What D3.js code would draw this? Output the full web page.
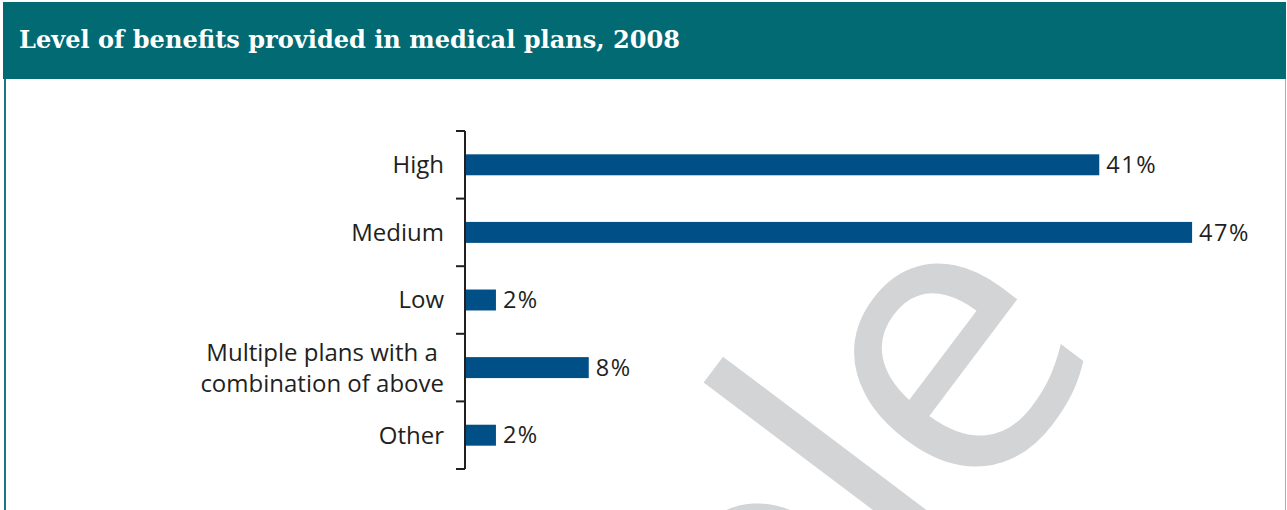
<!DOCTYPE html>
<html>
<head>
<meta charset="utf-8">
<script src="https://cdn.jsdelivr.net/npm/d3@7"></script>
<style>
  html, body { margin: 0; padding: 0; background: #ffffff; }
  svg { display: block; }
</style>
</head>
<body>
<svg id="chart" width="1287" height="510"></svg>
<script>
// Survey results: share of plans by level of benefits
const titleText = "Level of benefits provided in medical plans, 2008";
const categories = ["High", "Medium", "Low", "Multiple plans with a \ncombination of above", "Other"];
const shares = [41, 47, 2, 8, 2];
const valueLabels = ["41%", "47%", "2%", "8%", "2%"];

const W = 1287, H = 510;
const teal = "#016a73";
const barColor = "#004f86";
const ink = "#231f20";

const svg = d3.select("#chart");

// Frame: teal header band and thin side rules
svg.append("rect")
  .attr("x", 3).attr("y", 2).attr("width", W - 4).attr("height", 77)
  .attr("fill", teal);
svg.append("line")
  .attr("x1", 5).attr("x2", 5).attr("y1", 79).attr("y2", H)
  .attr("stroke", "#1c7680").attr("stroke-width", 2);
svg.append("line")
  .attr("x1", 1285.5).attr("x2", 1285.5).attr("y1", 79).attr("y2", H)
  .attr("stroke", "#8cbcc1").attr("stroke-width", 1);

const title = svg.append("text")
  .attr("x", 19).attr("y", 48)
  .attr("fill", "#ffffff")
  .style("font-family", "'DejaVu Serif', serif")
  .style("font-weight", "bold")
  .style("font-size", "24px")
  .text(titleText);
title.attr("textLength", 661).attr("lengthAdjust", "spacingAndGlyphs");

// Background watermark (only its tail end falls inside the frame)
const wm = svg.append("text")
  .attr("transform", "translate(923,590) rotate(-53)")
  .attr("fill", "#d3d4d6")
  .style("font-family", "'Open Sans', sans-serif")
  .style("font-size", "395px")
  .style("letter-spacing", "-12px")
  .text("Sample");
wm.attr("x", -wm.node().getSubStringLength(0, 4));

// Scales
const x = d3.scaleLinear().domain([0, 47]).range([465, 465 + 47 * 15.47]);
const y = d3.scaleBand()
  .domain(categories)
  .range([131, 469])
  .paddingInner(0.69)
  .paddingOuter(0.345);

// Bars
svg.append("g").selectAll("rect")
  .data(shares)
  .join("rect")
  .attr("x", x(0))
  .attr("y", (d, i) => y(categories[i]))
  .attr("width", d => x(d) - x(0))
  .attr("height", y.bandwidth())
  .attr("fill", barColor);

// Value labels
svg.append("g").selectAll("text")
  .data(shares)
  .join("text")
  .attr("x", d => x(d) + 7)
  .attr("y", (d, i) => y(categories[i]) + y.bandwidth() / 2)
  .attr("dy", "0.35em")
  .attr("fill", ink)
  .style("font-family", "'Open Sans', sans-serif")
  .style("font-size", "23.5px")
  .style("letter-spacing", "1.5px")
  .text((d, i) => valueLabels[i]);

// Category axis with ticks at band boundaries
const axisX = x(0);
const [y0, y1] = y.range();
const axisG = svg.append("g").attr("stroke", ink).attr("stroke-width", 2);
axisG.append("line")
  .attr("x1", axisX).attr("x2", axisX)
  .attr("y1", y0).attr("y2", y1);
const boundaries = d3.range(categories.length + 1).map(i => y0 + i * y.step());
axisG.selectAll("line.tick")
  .data(boundaries)
  .join("line")
  .attr("class", "tick")
  .attr("x1", axisX - 9).attr("x2", axisX)
  .attr("y1", d => d).attr("y2", d => d);

// Category labels (multi-line where needed)
const labels = svg.append("g").selectAll("text")
  .data(categories)
  .join("text")
  .attr("text-anchor", "end")
  .attr("fill", ink)
  .style("font-family", "'Open Sans', sans-serif")
  .style("font-size", "24px")
  .style("white-space", "pre");
labels.each(function (c) {
  const lines = c.split("\n");
  const cy = y(c) + y.bandwidth() / 2;
  const lh = 31;
  d3.select(this).selectAll("tspan")
    .data(lines)
    .join("tspan")
    .attr("x", 444)
    .attr("y", (d, i) => cy + (i - (lines.length - 1) / 2) * lh)
    .attr("dy", "0.35em")
    .text(d => d);
});
</script>
</body>
</html>
